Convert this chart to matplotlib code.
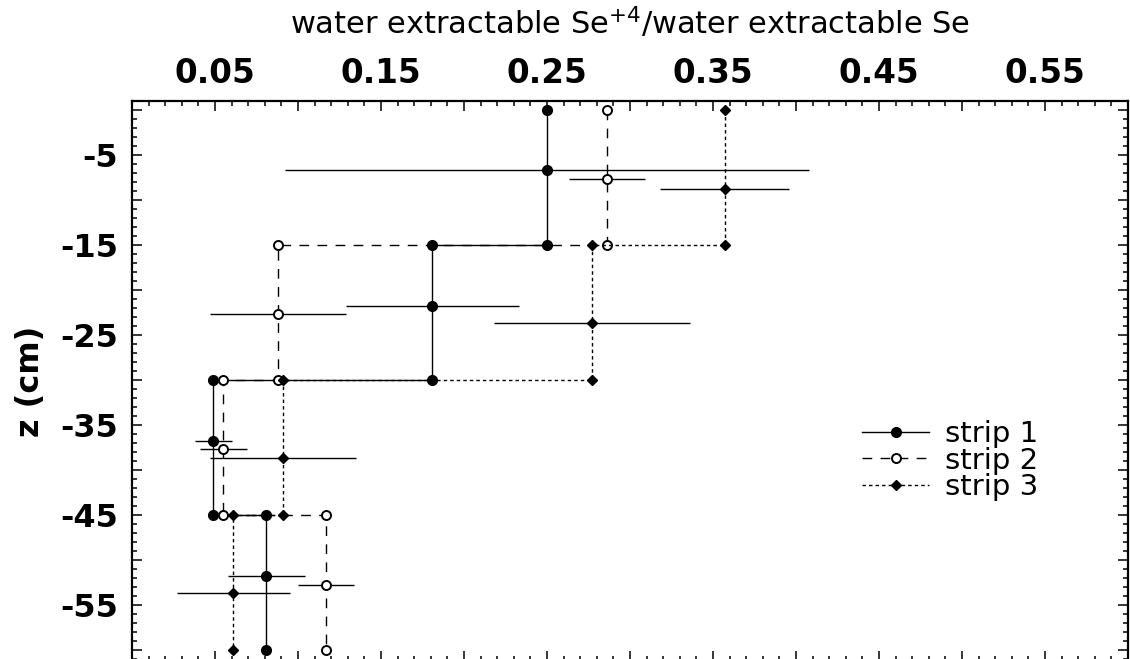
import numpy as np
import matplotlib
matplotlib.use("Agg")
import matplotlib.pyplot as plt
from matplotlib.ticker import MultipleLocator, FuncFormatter

# layer boundaries (cm)
layer_top = [0, -15, -30, -45]
layer_bot = [-15, -30, -45, -60]

# Se(+4) fraction per layer, half-width of the spread, depth where the mean is plotted
strip1_val = [0.250, 0.181, 0.049, 0.081]
strip1_err = [0.158, 0.052, 0.011, 0.023]
strip1_mid = [-6.7, -21.8, -36.8, -51.8]

strip2_val = [0.286, 0.088, 0.055, 0.117]
strip2_err = [0.023, 0.041, 0.014, 0.017]
strip2_mid = [-7.7, -22.7, -37.7, -52.8]

strip3_val = [0.357, 0.277, 0.091, 0.061]
strip3_err = [0.039, 0.059, 0.044, 0.034]
strip3_mid = [-8.8, -23.7, -38.7, -53.7]

plt.rcParams["font.family"] = "DejaVu Sans"
plt.rcParams["mathtext.default"] = "regular"


def step_profile(vals):
    xs, ys = [], []
    for v, t, b in zip(vals, layer_top, layer_bot):
        xs += [v, v]
        ys += [t, b]
    return xs, ys


fig = plt.figure(figsize=(11.3, 6.59), dpi=100)
ax = fig.add_axes([132 / 1130, -2 / 659, 996 / 1130, 560 / 659])

styles = [
    ("strip 1", strip1_val, strip1_err, strip1_mid,
     dict(linestyle="-", marker="o", markersize=7, markerfacecolor="k")),
    ("strip 2", strip2_val, strip2_err, strip2_mid,
     dict(linestyle=(0, (7, 6)), marker="o", markersize=6.5, markerfacecolor="white",
          markeredgewidth=1.4)),
    ("strip 3", strip3_val, strip3_err, strip3_mid,
     dict(linestyle=(0, (2.5, 2.2)), marker="D", markersize=5.5, markerfacecolor="k")),
]

for name, vals, errs, mids, st in styles:
    xs, ys = step_profile(vals)
    ax.plot(xs, ys, color="k", linewidth=1.0, markeredgecolor="k", label=name,
            zorder=3, **st)
    ax.errorbar(vals, mids, xerr=errs, fmt="none", ecolor="k", elinewidth=1.0,
                capsize=0, zorder=2)
    mk = {k: v for k, v in st.items() if k != "linestyle"}
    ax.plot(vals, mids, linestyle="none", markeredgecolor="k", zorder=4, **mk)

ax.set_xlim(0, 0.6)
ax.set_ylim(-61.2, 1)

ax.xaxis.set_major_locator(MultipleLocator(0.05))
ax.xaxis.set_minor_locator(MultipleLocator(0.01))
ax.yaxis.set_major_locator(MultipleLocator(5))
ax.yaxis.set_minor_locator(MultipleLocator(1))


def xfmt(v, pos):
    k = int(round(v / 0.05))
    return f"{v:.2f}" if k % 2 == 1 else ""


def yfmt(v, pos):
    k = int(round(v))
    return f"{k:d}" if k % 10 == -5 or k % 10 == 5 else ""


ax.xaxis.set_major_formatter(FuncFormatter(xfmt))
ax.yaxis.set_major_formatter(FuncFormatter(yfmt))

ax.tick_params(which="both", direction="in", top=True, bottom=True, left=True,
               right=True, labeltop=True, labelbottom=False, width=1.1)
ax.tick_params(which="major", length=7.5)
ax.tick_params(which="minor", length=3.5)
ax.tick_params(axis="x", which="major", pad=8)
ax.tick_params(axis="y", which="major", pad=10)
for lab in ax.get_xticklabels():
    lab.set_fontsize(23.5)
    lab.set_fontweight("bold")
for lab in ax.get_yticklabels():
    lab.set_fontsize(23)
    lab.set_fontweight("bold")

for sp in ax.spines.values():
    sp.set_linewidth(1.6)

ax.xaxis.set_label_position("top")
ax.set_xlabel("water extractable Se$^{+4}$/water extractable Se", fontsize=22,
              labelpad=16)
ax.set_ylabel("z (cm)", fontsize=23, fontweight="bold", labelpad=10)

ax.legend(loc="center left", bbox_to_anchor=(0.733, 0.358), frameon=False,
          fontsize=21, numpoints=1, handlelength=2.3, handletextpad=0.55,
          labelspacing=-0.05, borderpad=0, borderaxespad=0)

fig.savefig("out.png", dpi=100)
